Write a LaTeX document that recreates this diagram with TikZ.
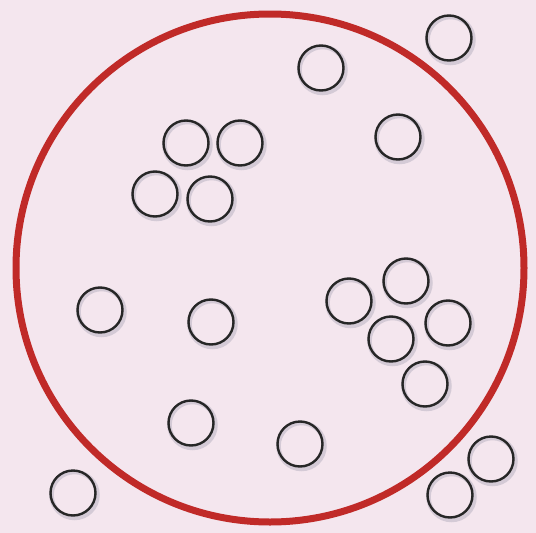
\documentclass[tikz,border=0pt]{standalone}
\usetikzlibrary{shadows}
\definecolor{boardpink}{RGB}{244,230,238}
\definecolor{hoopred}{RGB}{192,42,40}
\definecolor{ringshade}{RGB}{70,80,110}
\begin{document}
\begin{tikzpicture}[
    x=1pt, y=-1pt,
    hoop/.style={draw=hoopred, line width=7pt},
    ring/.style={
      circle, draw=black!85, line width=2.4pt,
      minimum size=45pt, inner sep=0pt, outer sep=0pt,
    },
    ringshadow/.style={
      circle, draw=ringshade, line width=4.5pt, opacity=0.18,
      minimum size=46pt, inner sep=0pt,
    },
  ]
% --- board
\fill[boardpink] (0,0) rectangle (536,533);
\useasboundingbox (0,0) rectangle (536,533);
% --- big hoop
\draw[hoop] (270,268) circle (254);
% --- rings: name/x/y
\foreach \n/\x/\y in {
    r1/449/38, r2/321/68, r3/398/137, r4/186/143, r5/240/143,
    r6/155/194, r7/210/199, r8/100/310, r9/211/322, r10/349/301,
    r11/406/281, r12/448/323, r13/391/339, r14/425/384, r15/191/423,
    r16/300/444, r17/491/459, r18/450/495, r19/73/493} {
  \node[ringshadow] at (\x+1.5,\y+2) {};
  \node[ring] (\n) at (\x,\y) {};
}
\end{tikzpicture}
\end{document}
